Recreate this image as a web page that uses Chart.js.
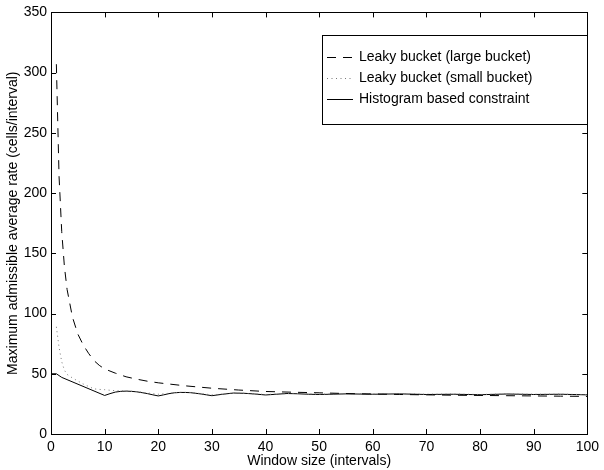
<!DOCTYPE html>
<html lang="en">
<head>
  <meta charset="UTF-8">
  <title>Maximum admissible average rate</title>
  <script src="https://cdn.jsdelivr.net/npm/chart.js"></script>
  <style>
    body { margin: 0; background: #fff; }
    #chart { display: block; }
  </style>
</head>
<body>
  <canvas id="chart" width="604" height="470"></canvas>

  <script>
    // values
    const largeX = [1,1.5,2,2.5,3,4,5,6,7,8,9,10,12,14,16,18,20,25,30,35,40,45,50,55,60,65,70,75,80,85,90,95,100];
    const largeY = [307,214,168,139,120,97,83,74,67,61,57,54,50.5,47.5,45.5,43.8,42.5,40,38,36.5,35.3,34.7,34.2,33.6,33.2,32.8,32.5,32.2,32,31.8,31.6,31.4,31.2];

    const smallX = [1,1.5,2,2.5,3,4,5,6,7,8,9,10,11,12,13,14,16,18,20,22,24,26,28,30,32,34,36,38,40,45,50,55,60,65,70,75,80,85,90,95,100];
    const smallY = [89,72,60,53,49.5,46.5,44,41.5,39.5,37.5,37,36.8,36.3,36,35.8,35.7,35.2,34,33,33.8,34.6,34.5,33.5,32.5,33.2,34,33.8,33.3,32.8,33.7,33,33.5,33.2,33.4,33,33.2,32.8,33.3,33,33.1,32.7];

    const histX = [0,1,2,10,11,12,13,14,15,16,17,18,19,20,21,22,23,24,25,26,27,28,29,30,32,34,36,38,40,42,44,46,48,50,55,60,65,70,75,80,85,90,95,100];
    const histY = [50,50,47,32,33.5,34.8,35.4,35.6,35.4,35,34.3,33.5,32.5,31.6,32.5,33.5,34.2,34.5,34.5,34.3,33.8,33.2,32.5,31.8,33,34,33.8,33.2,32.4,33,33.6,33.4,33,32.8,33.3,33,33.3,32.8,33,32.6,33.2,32.8,33,32.5];

    const seriesLabels = ['Leaky bucket (large bucket)', 'Leaky bucket (small bucket)', 'Histogram based constraint'];
    const xTitle = 'Window size (intervals)';
    const yTitle = 'Maximum admissible average rate (cells/interval)';

    const FONT = "'Liberation Sans', Arial, Helvetica, sans-serif";
    const pairs = (xs, ys) => xs.map((x, i) => ({ x: x, y: ys[i] }));

    // matlab style box with inward ticks
    const boxTicks = {
      id: 'boxTicks',
      afterDraw(chart) {
        const { ctx, chartArea: a, scales: { x, y } } = chart;
        const len = 5;
        ctx.save();
        ctx.strokeStyle = '#000';
        ctx.lineWidth = 1;
        ctx.beginPath();
        x.ticks.forEach(t => {
          const px = Math.round(x.getPixelForValue(t.value)) + 0.5;
          ctx.moveTo(px, a.bottom); ctx.lineTo(px, a.bottom - len);
          ctx.moveTo(px, a.top); ctx.lineTo(px, a.top + len);
        });
        y.ticks.forEach(t => {
          const py = Math.round(y.getPixelForValue(t.value)) + 0.5;
          ctx.moveTo(a.left, py); ctx.lineTo(a.left + len, py);
          ctx.moveTo(a.right, py); ctx.lineTo(a.right - len, py);
        });
        ctx.stroke();
        ctx.strokeRect(Math.round(a.left) + 0.5, Math.round(a.top) + 0.5,
                       Math.round(a.right - a.left), Math.round(a.bottom - a.top));
        ctx.restore();
      }
    };

    // boxed legend, top right
    const boxLegend = {
      id: 'boxLegend',
      afterDraw(chart) {
        const ctx = chart.ctx;
        const bx = 322, by = 35, bw = 265, bh = 89;
        const rowY = [57, 78, 99];
        ctx.save();
        ctx.fillStyle = '#fff';
        ctx.fillRect(bx, by, bw, bh);
        ctx.strokeStyle = '#000';
        ctx.lineWidth = 1;
        ctx.strokeRect(bx + 0.5, by + 0.5, bw, bh);
        chart.data.datasets.forEach((ds, i) => {
          const ly = rowY[i] + 0.5;
          ctx.strokeStyle = ds.borderColor;
          ctx.lineWidth = ds.borderWidth;
          ctx.setLineDash(ds.borderDash || []);
          ctx.beginPath();
          ctx.moveTo(327, ly); ctx.lineTo(353, ly);
          ctx.stroke();
          ctx.setLineDash([]);
          ctx.fillStyle = '#000';
          ctx.font = '14px ' + FONT;
          ctx.textBaseline = 'middle';
          ctx.fillText(ds.label, 359, rowY[i]);
        });
        ctx.restore();
      }
    };

    new Chart(document.getElementById('chart'), {
      type: 'line',
      data: {
        datasets: [
          {
            label: seriesLabels[0],
            data: pairs(largeX, largeY),
            borderColor: '#000',
            borderWidth: 1,
            borderDash: [9, 7],
            pointRadius: 0,
            tension: 0
          },
          {
            label: seriesLabels[1],
            data: pairs(smallX, smallY),
            borderColor: '#777',
            borderWidth: 1,
            borderDash: [1, 3.5],
            pointRadius: 0,
            tension: 0
          },
          {
            label: seriesLabels[2],
            data: pairs(histX, histY),
            borderColor: '#000',
            borderWidth: 1,
            pointRadius: 0,
            tension: 0
          }
        ]
      },
      options: {
        responsive: false,
        animation: false,
        layout: { padding: { top: 12, right: 12, left: 0, bottom: 0 } },
        plugins: {
          legend: { display: false },
          tooltip: { enabled: false }
        },
        scales: {
          x: {
            type: 'linear',
            min: 0,
            max: 100,
            grid: { display: false, drawTicks: false },
            border: { display: false },
            ticks: { stepSize: 10, color: '#000', padding: 5, maxRotation: 0, font: { family: FONT, size: 14 } },
            title: { display: true, text: xTitle, color: '#000', padding: { top: 0, bottom: 0 }, font: { family: FONT, size: 14 } },
            afterFit(scale) { scale.height = 36; }
          },
          y: {
            min: 0,
            max: 350,
            grid: { display: false, drawTicks: false },
            border: { display: false },
            ticks: { stepSize: 50, color: '#000', padding: 4, font: { family: FONT, size: 14 } },
            title: { display: true, text: yTitle, color: '#000', padding: { top: 5, bottom: 0 }, font: { family: FONT, size: 14 } },
            afterFit(scale) { scale.width = 51; }
          }
        }
      },
      plugins: [boxTicks, boxLegend]
    });
  </script>
</body>
</html>
